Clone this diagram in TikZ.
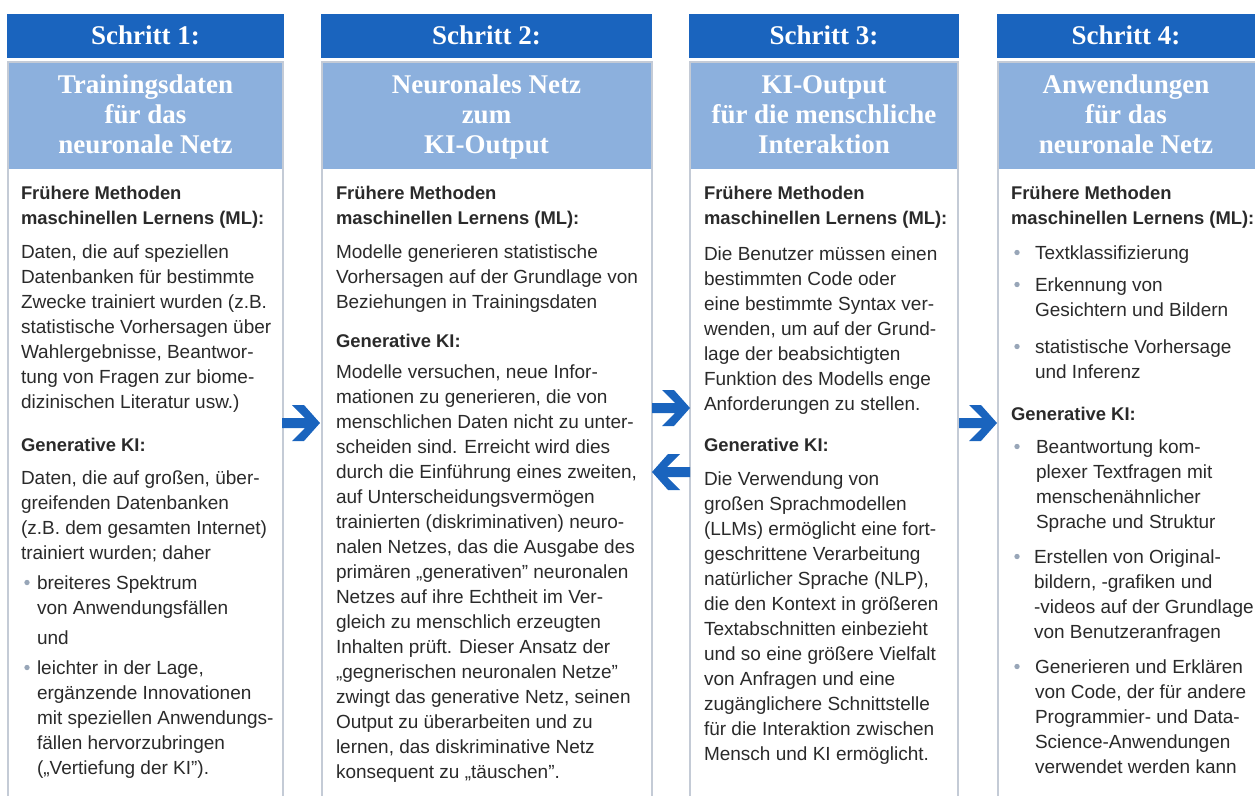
\documentclass[tikz,border=0pt]{standalone}
\usepackage{fontspec}
\setmainfont{Liberation Sans}
\newfontfamily\headserif{Liberation Serif}

\definecolor{stepblue}{HTML}{1A64BE}
\definecolor{titleblue}{HTML}{8CB0DD}
\definecolor{framegray}{HTML}{C4CBD6}
\definecolor{bodyink}{HTML}{2A2A2A}
\definecolor{dotgray}{HTML}{98A6B8}

\tikzset{
  stepbar/.style={fill=stepblue, draw=none},
  titlebar/.style={fill=titleblue, draw=none},
  colframe/.style={draw=framegray, line width=1.1pt},
  steplabel/.style={inner sep=0, anchor=base, text=white,
    font=\headserif\bfseries\fontsize{27}{30}\selectfont},
  titletext/.style={inner sep=0, anchor=north, align=center, text=white,
    font=\headserif\bfseries\fontsize{27}{30}\selectfont},
  bodypara/.style={inner sep=0, outer sep=0, align=left, text=bodyink,
    font=\fontsize{19}{25}\selectfont},
  headpara/.style={bodypara, font=\bfseries\fontsize{18.4}{25}\selectfont},
  dot/.style={fill=dotgray},
  flowarrow/.pic={
    \fill[stepblue] (0,0) -- (-16,18) -- (-28,18) -- (-15,5) -- (-38,5)
      -- (-38,-5) -- (-15,-5) -- (-28,-18) -- (-16,-18) -- cycle;
  }
}

% text block whose first baseline sits at the given y
\newcommand\txtblock[5][bodypara]{%
  \node[#1, anchor=north west] (#2) at (#3,#4-18) {\rule{0pt}{18pt}#5};}
% bullet dot in front of a list item
\newcommand\listdot[2]{\fill[dot] (#1,#2-6.5) circle (2.7);}

\begin{document}
\begin{tikzpicture}[x=1pt, y=-1pt]
\useasboundingbox (0,0) rectangle (1255,795);

% ---- column frames and title bars ----
\foreach \l/\r in {8/283, 322/652, 690/958, 998/1262}{
  \fill[titlebar] (\l,62) rectangle (\r,169);
  \draw[colframe] (\l,800) -- (\l,62) -- (\r,62) -- (\r,800);
}
\fill[stepbar] (7,14) rectangle (284,57.5);
\fill[stepbar] (321,14) rectangle (652,57.5);
\fill[stepbar] (689,14) rectangle (959,57.5);
\fill[stepbar] (997,14) rectangle (1260,57.5);

% ---- step labels ----
\node[steplabel] (s1) at (145.5,44) {Schritt 1:};
\node[steplabel] (s2) at (486.5,44) {Schritt 2:};
\node[steplabel] (s3) at (824,44) {Schritt 3:};
\node[steplabel] (s4) at (1126,44) {Schritt 4:};

% ---- step titles ----
\node[titletext] (t1) at (145.5,71) {\rule{0pt}{22pt}Trainingsdaten\\für das\\neuronale Netz};
\node[titletext] (t2) at (486.5,71) {\rule{0pt}{22pt}Neuronales Netz\\zum\\KI-Output};
\node[titletext] (t3) at (824,71) {\rule{0pt}{22pt}KI-Output\\für die menschliche\\Interaktion};
\node[titletext] (t4) at (1126,71) {\rule{0pt}{22pt}Anwendungen\\für das\\neuronale Netz};

% ---- column 1 ----
\txtblock[headpara]{h1a}{21}{199}{Frühere Methoden\\maschinellen Lernens (ML):}
\txtblock{b1a}{21}{258}{Daten, die auf speziellen\\Datenbanken für bestimmte\\Zwecke trainiert wurden (z.B.\\statistische Vorhersagen über\\Wahlergebnisse, Beantwor-\\tung von Fragen zur biome-\\dizinischen Literatur usw.)}
\txtblock[headpara]{h1b}{21}{451}{Generative KI:}
\txtblock{b1b}{21}{484}{Daten, die auf großen, über-\\greifenden Datenbanken\\(z.B. dem gesamten Internet)\\trainiert wurden; daher}
\listdot{27}{589}
\txtblock{b1c}{37}{589}{breiteres Spektrum\\von Anwendungsfällen}
\txtblock{b1d}{37}{644}{und}
\listdot{27}{674}
\txtblock{b1e}{37}{674}{leichter in der Lage,\\ergänzende Innovationen\\mit speziellen Anwendungs-\\fällen hervorzubringen\\(„Vertiefung der KI”).}

% ---- column 2 ----
\txtblock[headpara]{h2a}{336}{199}{Frühere Methoden\\maschinellen Lernens (ML):}
\txtblock{b2a}{336}{258}{Modelle generieren statistische\\Vorhersagen auf der Grundlage von\\Beziehungen in Trainingsdaten}
\txtblock[headpara]{h2b}{336}{347}{Generative KI:}
\txtblock{b2b}{336}{378}{Modelle versuchen, neue Infor-\\mationen zu generieren, die von\\menschlichen Daten nicht zu unter-\\scheiden sind. Erreicht wird dies\\durch die Einführung eines zweiten,\\auf Unterscheidungsvermögen\\trainierten (diskriminativen) neuro-\\nalen Netzes, das die Ausgabe des\\primären „generativen” neuronalen\\Netzes auf ihre Echtheit im Ver-\\gleich zu menschlich erzeugten\\Inhalten prüft. Dieser Ansatz der\\„gegnerischen neuronalen Netze”\\zwingt das generative Netz, seinen\\Output zu überarbeiten und zu\\lernen, das diskriminative Netz\\konsequent zu „täuschen”.}

% ---- column 3 ----
\txtblock[headpara]{h3a}{704}{199}{Frühere Methoden\\maschinellen Lernens (ML):}
\txtblock{b3a}{704}{260}{Die Benutzer müssen einen\\bestimmten Code oder\\eine bestimmte Syntax ver-\\wenden, um auf der Grund-\\lage der beabsichtigten\\Funktion des Modells enge\\Anforderungen zu stellen.}
\txtblock[headpara]{h3b}{704}{451}{Generative KI:}
\txtblock{b3b}{704}{485}{Die Verwendung von\\großen Sprachmodellen\\(LLMs) ermöglicht eine fort-\\geschrittene Verarbeitung\\natürlicher Sprache (NLP),\\die den Kontext in größeren\\Textabschnitten einbezieht\\und so eine größere Vielfalt\\von Anfragen und eine\\zugänglichere Schnittstelle\\für die Interaktion zwischen\\Mensch und KI ermöglicht.}

% ---- column 4 ----
\txtblock[headpara]{h4a}{1011}{199}{Frühere Methoden\\maschinellen Lernens (ML):}
\listdot{1017}{259}
\txtblock{b4a}{1035}{259}{Textklassifizierung}
\listdot{1017}{291}
\txtblock{b4b}{1035}{291}{Erkennung von\\Gesichtern und Bildern}
\listdot{1017}{353}
\txtblock{b4c}{1035}{353}{statistische Vorhersage\\und Inferenz}
\txtblock[headpara]{h4b}{1011}{420}{Generative KI:}
\listdot{1017}{453}
\txtblock{b4d}{1036}{453}{Beantwortung kom-\\plexer Textfragen mit\\menschenähnlicher\\Sprache und Struktur}
\listdot{1017}{563}
\txtblock{b4e}{1034}{563}{Erstellen von Original-\\bildern, -grafiken und\\-videos auf der Grundlage\\von Benutzeranfragen}
\listdot{1017}{673}
\txtblock{b4f}{1035}{673}{Generieren und Erklären\\von Code, der für andere\\Programmier- und Data-\\Science-Anwendungen\\verwendet werden kann}

% ---- flow arrows between the columns ----
\coordinate (a12) at (320,423);
\coordinate (a23) at (690,408);
\coordinate (a32) at (652,472);
\coordinate (a34) at (997,423);
\pic at (a12) {flowarrow};
\pic at (a23) {flowarrow};
\pic[rotate=180] at (a32) {flowarrow};
\pic at (a34) {flowarrow};
\end{tikzpicture}
\end{document}
